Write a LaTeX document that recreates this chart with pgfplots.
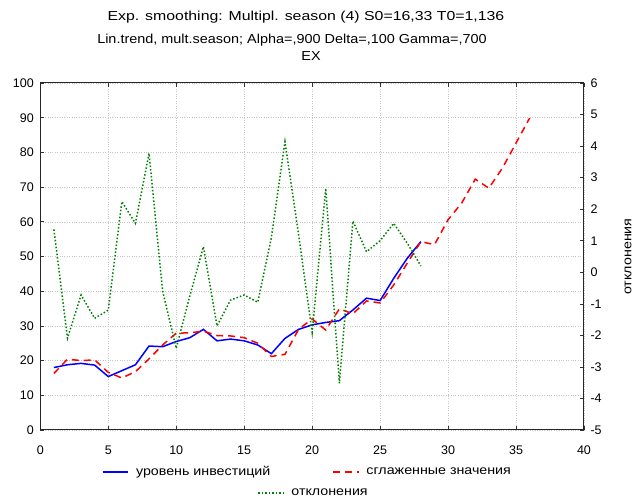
\documentclass[border=0pt]{standalone}
\usepackage{pgfplots}
\pgfplotsset{compat=1.18}
\usepackage{fontspec}
\setmainfont{Liberation Sans}
\newfontfamily\widefont[FakeStretch=1.14]{Liberation Sans}
\newfontfamily\titlea[FakeStretch=1.22]{Liberation Sans}
\newfontfamily\titleb[FakeStretch=1.11]{Liberation Sans}

\pgfplotstableread{
x y
1 18.0
2 18.8
3 19.2
4 18.7
5 15.4
6 17.1
7 18.8
8 24.2
9 24.0
10 25.5
11 26.6
12 29.0
13 25.7
14 26.2
15 25.7
16 24.5
17 22.0
18 26.4
19 29.0
20 30.3
21 31.0
22 31.5
23 34.6
24 38.0
25 37.3
26 43.7
27 49.5
28 54.3
}\level

\pgfplotstableread{
x y
1 16.3
2 20.4
3 20.0
4 20.2
5 16.6
6 15.0
7 16.8
8 20.5
9 24.5
10 27.9
11 28.0
12 28.5
13 27.2
14 27.1
15 26.6
16 25.0
17 21.2
18 21.8
19 29.0
20 32.0
21 28.8
22 34.9
23 33.5
24 37.2
25 36.6
26 41.8
27 48.1
28 54.3
29 53.4
30 60.6
31 65.4
32 72.3
33 69.7
34 75.5
35 82.7
36 89.9
}\smooth

\pgfplotstableread{
x y
1 1.36
2 -2.09
3 -0.72
4 -1.46
5 -1.20
6 2.24
7 1.55
8 3.77
9 -0.60
10 -2.41
11 -0.75
12 0.81
13 -1.70
14 -0.88
15 -0.72
16 -0.95
17 1.10
18 4.14
19 1.20
20 -1.90
21 2.66
22 -3.52
23 1.62
24 0.65
25 1.00
26 1.55
27 0.92
28 0.20
}\dev

\definecolor{cblue}{RGB}{0,0,255}
\definecolor{cred}{RGB}{255,0,0}
\definecolor{cgreen}{RGB}{0,128,0}

\begin{document}
\begin{tikzpicture}[x=1pt,y=1pt]
\path[use as bounding box] (0,0) rectangle (633,498);

\pgfplotsset{
  every axis/.append style={
    at={(40.3pt,68pt)}, anchor=south west,
    width=543.7pt, height=347pt, scale only axis,
    xmin=0, xmax=40,
    tick align=inside, major tick length=4pt,
    tick style={black!80, line width=0.6pt},
    axis line style={black!85, line width=1pt},
    tick label style={font=\fontsize{12.5}{14}\selectfont},
    /pgf/number format/assume math mode=true,
    legend style={draw=none, fill=none, font=\widefont\fontsize{12.5}{14}\selectfont,
      inner sep=0pt, /tikz/every odd column/.append style={column sep=5pt}},
    legend image post style={xscale=1.5},
  },
}

\begin{axis}[
  ymin=0, ymax=100,
  xtick={0,5,...,40}, ytick={0,10,...,100},
  ytick pos=left, yticklabel pos=left,
  xticklabel style={yshift=-12pt},
  yticklabel style={xshift=-3pt},
  grid=major, grid style={dotted, gray!45, line width=0.5pt},
  legend columns=2,
  legend style={at={(axis description cs:0.4914,-0.121)}, anchor=center,
    /tikz/every even column/.append style={column sep=60pt}},
]
\addplot[cblue, line width=1.5pt, mark=none] table[x=x,y=y] {\level};
\addlegendentry{уровень инвестиций}
\addplot[cred, line width=1.5pt, dash pattern=on 7pt off 5pt, mark=none] table[x=x,y=y] {\smooth};
\addlegendentry{сглаженные значения}
\end{axis}

\begin{axis}[
  ymin=-5, ymax=6,
  axis x line=none, axis y line*=right,
  ytick={-5,-4,...,6},
  yticklabel style={xshift=3pt},
  ylabel={отклонения},
  every axis y label/.style={at={(axis description cs:1.081,0.5)}, rotate=90,
    anchor=center, font=\widefont\fontsize{12.5}{14}\selectfont},
  legend style={at={(axis description cs:0.5025,-0.1816)}, anchor=center},
]
\addplot[cgreen, line width=1.5pt, dotted, mark=none] table[x=x,y=y] {\dev};
\addlegendentry{отклонения}
\end{axis}

\node[font=\titlea\fontsize{13}{15}\selectfont] at (306,481) {Exp. smoothing: Multipl. season (4) S0=16,33 T0=1,136};
\node[font=\titleb\fontsize{13}{15}\selectfont] at (292,458) {Lin.trend, mult.season; Alpha=,900 Delta=,100 Gamma=,700};
\node[font=\titleb\fontsize{13}{15}\selectfont] at (311,442) {EX};
\end{tikzpicture}
\end{document}
